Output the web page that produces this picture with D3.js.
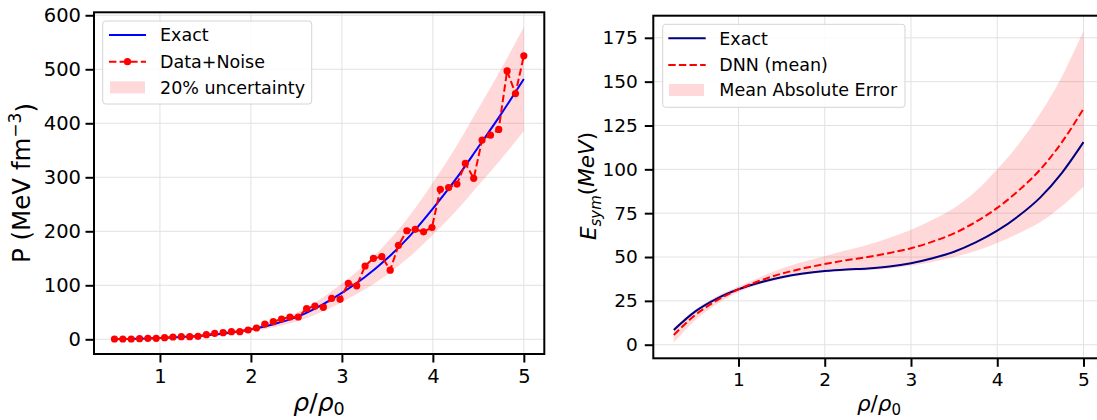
<!DOCTYPE html>
<html><head><meta charset="utf-8">
<script src="https://cdn.jsdelivr.net/npm/d3@7"></script>
<style>
html,body{margin:0;padding:0;background:#fff;}
svg{display:block;font-family:"DejaVu Sans",sans-serif;}
</style></head>
<body>
<svg id="c" width="1097" height="420"></svg>
<script>
// ---------- Left panel data ----------
const P_X = [0.5,0.75,1,1.25,1.5,1.75,2,2.25,2.5,2.75,3,3.25,3.5,3.75,4,4.25,4.5,4.75,5];
const P_EXACT = [0.3,0.9,2.3,4.3,7,11.5,18.5,28,41,61,86,115,150,192,242,296,356,417,482];
const P_LOW = [0.24,0.72,1.84,3.44,5.6,9.2,14.8,22.4,32.8,48.8,68.8,92,120,153.6,193.6,236.8,284.8,333.6,385.6];
const P_HIGH = [0.36,1.08,2.76,5.16,8.4,13.8,22.2,33.6,49.2,73.2,103.2,138,180,230.4,290.4,355.2,427.2,500.4,578.4];
const NOISE_X = [0.500,0.592,0.684,0.776,0.867,0.959,1.051,1.143,1.235,1.327,1.418,1.510,1.602,1.694,1.786,1.878,1.969,2.061,2.153,2.245,2.337,2.429,2.520,2.612,2.704,2.796,2.888,2.980,3.071,3.163,3.255,3.347,3.439,3.531,3.622,3.714,3.806,3.898,3.990,4.082,4.173,4.265,4.357,4.449,4.541,4.633,4.724,4.816,4.908,5.000];
const NOISE_Y = [0.6,0.6,0.6,1.2,1.8,1.8,3.0,4.3,4.9,4.9,5.5,8.6,11.0,12.3,14.1,14.1,17.2,20.9,28.3,32.6,37.6,41.3,41.3,56.7,61.6,59.2,75.8,74.0,103.6,99.0,135.7,150,153,128,174,201,203.6,199,207,277.6,281,287.4,325.7,298,369,378,388.6,497,455,525];
const P_XTICKS = [1,2,3,4,5];
const P_YTICKS = [0,100,200,300,400,500,600];

// ---------- Right panel data ----------
const E_X = [0.25,0.5,0.75,1,1.25,1.5,1.75,2,2.25,2.5,2.75,3,3.25,3.5,3.75,4,4.25,4.5,4.75,5];
const E_EXACT = [8.4,19,26.3,31.6,35.5,38.5,40.6,42,42.9,43.5,44.6,46.5,49.3,53,58.3,65,73.5,84,98,115.5];
const E_DNN = [5.5,17,25.3,31.6,36.5,40.5,43.5,46,48.2,50,52.3,55,58.8,63.5,70,78,88,100,115.5,134.5];
const E_LOW = [1.2,14,23,30,34.5,37.5,39.8,41.3,42,42.5,43.5,45,47.2,50,53.5,58,63.5,70,79,90];
const E_HIGH = [9.8,20,27.6,33.2,38.5,43.5,47.3,50.5,53.8,57,61,65.5,71.3,78,87.5,100,114.5,132,153,179];
const E_XTICKS = [1,2,3,4,5];
const E_YTICKS = [0,25,50,75,100,125,150,175];

const svg = d3.select("#c");
const GRID = "#e2e2e2";

function panel(opt){
  const g = svg.append("g");
  const x = d3.scaleLinear().domain(opt.xd).range([opt.L, opt.R]);
  const y = d3.scaleLinear().domain(opt.yd).range([opt.B, opt.T]);
  g.append("g").selectAll("line").data(opt.xt).join("line")
    .attr("x1", d=>x(d)).attr("x2", d=>x(d)).attr("y1", opt.T).attr("y2", opt.B)
    .attr("stroke", GRID).attr("stroke-width", 1);
  g.append("g").selectAll("line").data(opt.yt).join("line")
    .attr("x1", opt.L).attr("x2", opt.R).attr("y1", d=>y(d)).attr("y2", d=>y(d))
    .attr("stroke", GRID).attr("stroke-width", 1);
  const ax = g.append("g").attr("transform", `translate(0,${opt.B})`)
    .call(d3.axisBottom(x).tickValues(opt.xt).tickFormat(d3.format("d")).tickSize(8.5).tickPadding(opt.xpad));
  const ay = g.append("g").attr("transform", `translate(${opt.L},0)`)
    .call(d3.axisLeft(y).tickValues(opt.yt).tickFormat(d3.format("d")).tickSize(8.5).tickPadding(opt.ypad));
  [ax, ay].forEach(a=>{
    a.select(".domain").remove();
    a.selectAll(".tick line").attr("stroke", "#000").attr("stroke-width", 2);
    a.selectAll(".tick text").attr("fill", "#000").attr("font-size", opt.tickFs + "px")
      .attr("font-family", "DejaVu Sans");
  });
  return {g, x, y};
}

// ---------- LEFT ----------
const A = panel({xd:[0.275,5.225], yd:[-27.2,605.5], L:94, R:544.3, T:12.3, B:354,
  xt:P_XTICKS, yt:P_YTICKS, tickFs:19.5, xpad:6.5, ypad:4.5});
const bandA = d3.area().x((d,i)=>A.x(P_X[i])).y0((d,i)=>A.y(P_LOW[i])).y1((d,i)=>A.y(P_HIGH[i])).curve(d3.curveMonotoneX);
A.g.append("path").attr("d", bandA(P_X)).attr("fill", "#ff0000").attr("fill-opacity", 0.15);
const exactA = d3.line().x((d,i)=>A.x(P_X[i])).y((d,i)=>A.y(P_EXACT[i])).curve(d3.curveMonotoneX);
A.g.append("path").attr("d", exactA(P_X)).attr("fill","none").attr("stroke","#0000ff").attr("stroke-width",2);
const noiseLine = d3.line().x((d,i)=>A.x(NOISE_X[i])).y((d,i)=>A.y(NOISE_Y[i]));
A.g.append("path").attr("d", noiseLine(NOISE_X)).attr("fill","none").attr("stroke","#ff0000")
  .attr("stroke-width",2).attr("stroke-dasharray","7.4,3.2");
A.g.append("g").selectAll("circle").data(NOISE_X).join("circle")
  .attr("cx",(d,i)=>A.x(NOISE_X[i])).attr("cy",(d,i)=>A.y(NOISE_Y[i])).attr("r",3.6).attr("fill","#ff0000");
A.g.append("rect").attr("x",94).attr("y",12.3).attr("width",544.3-94).attr("height",354-12.3)
  .attr("fill","none").attr("stroke","#000").attr("stroke-width",2);

function legend(g, x0, y0, w, h, rows, fs){
  g.append("rect").attr("x",x0).attr("y",y0).attr("width",w).attr("height",h).attr("rx",3)
    .attr("fill","#fff").attr("fill-opacity",0.85).attr("stroke","#d4d4d4").attr("stroke-width",1);
  rows.forEach(r=>{
    if(r.type==="patch"){
      g.append("rect").attr("x",r.hx0).attr("y",r.cy-6).attr("width",r.hx1-r.hx0).attr("height",12)
        .attr("fill","#ff0000").attr("fill-opacity",0.15);
    } else {
      g.append("line").attr("x1",r.hx0).attr("x2",r.hx1).attr("y1",r.cy).attr("y2",r.cy)
        .attr("stroke",r.color).attr("stroke-width",2).attr("stroke-dasharray",r.dash||null);
      if(r.marker) g.append("circle").attr("cx",(r.hx0+r.hx1)/2).attr("cy",r.cy).attr("r",3.6).attr("fill",r.color);
    }
    g.append("text").attr("x",r.tx).attr("y",r.cy).attr("dy","0.36em").attr("font-size",fs+"px")
      .attr("fill","#000").text(r.label);
  });
}
legend(A.g, 102.7, 21, 209, 83, [
  {type:"line", color:"#0000ff", hx0:109, hx1:146, cy:35, tx:160, label:"Exact"},
  {type:"line", color:"#ff0000", dash:"7.4,3.2", marker:true, hx0:109, hx1:146, cy:61.7, tx:160, label:"Data+Noise"},
  {type:"patch", hx0:110, hx1:145, cy:87.3, tx:160, label:"20% uncertainty"}
], 17.5);

const ylA = svg.append("text").attr("transform","translate(30,183) rotate(-90)").attr("text-anchor","middle")
  .attr("font-size","24.5px").attr("fill","#000");
ylA.append("tspan").text("P (MeV fm");
ylA.append("tspan").attr("dy","-0.55em").attr("font-size","17px").text("\u22123");
ylA.append("tspan").attr("dy","0.55em").text(")");
const xlA = svg.append("text").attr("x",319).attr("y",411).attr("text-anchor","middle").attr("font-size","25px").attr("fill","#000");
xlA.append("tspan").attr("font-style","italic").text("ρ");
xlA.append("tspan").text("/");
xlA.append("tspan").attr("font-style","italic").text("ρ");
xlA.append("tspan").attr("font-size","17.5px").attr("dy","0.25em").text("0");

// ---------- RIGHT ----------
const B = panel({xd:[0.0125,5.2375], yd:[-7.75,187.6], L:653.3, R:1104, T:15.7, B:358.3,
  xt:E_XTICKS, yt:E_YTICKS, tickFs:18.5, xpad:6.5, ypad:7});
const bandB = d3.area().x((d,i)=>B.x(E_X[i])).y0((d,i)=>B.y(E_LOW[i])).y1((d,i)=>B.y(E_HIGH[i])).curve(d3.curveMonotoneX);
B.g.append("path").attr("d", bandB(E_X)).attr("fill", "#ff0000").attr("fill-opacity", 0.15);
const exactB = d3.line().x((d,i)=>B.x(E_X[i])).y((d,i)=>B.y(E_EXACT[i])).curve(d3.curveMonotoneX);
B.g.append("path").attr("d", exactB(E_X)).attr("fill","none").attr("stroke","#000080").attr("stroke-width",2);
const dnnB = d3.line().x((d,i)=>B.x(E_X[i])).y((d,i)=>B.y(E_DNN[i])).curve(d3.curveMonotoneX);
B.g.append("path").attr("d", dnnB(E_X)).attr("fill","none").attr("stroke","#ff0000")
  .attr("stroke-width",2).attr("stroke-dasharray","7.4,3.2");
B.g.append("rect").attr("x",653.3).attr("y",15.7).attr("width",1104-653.3).attr("height",358.3-15.7)
  .attr("fill","none").attr("stroke","#000").attr("stroke-width",2);

legend(B.g, 662.7, 24.3, 242.3, 83, [
  {type:"line", color:"#000080", hx0:668.3, hx1:705.7, cy:38.3, tx:719.3, label:"Exact"},
  {type:"line", color:"#ff0000", dash:"7.4,3.2", hx0:668.3, hx1:705.7, cy:65, tx:719.3, label:"DNN (mean)"},
  {type:"patch", hx0:669, hx1:704, cy:90, tx:719.3, label:"Mean Absolute Error"}
], 17.5);

const ylB = svg.append("text").attr("transform","translate(596,186) rotate(-90)").attr("text-anchor","middle")
  .attr("font-size","21.5px").attr("fill","#000");
ylB.append("tspan").attr("font-style","italic").text("E");
ylB.append("tspan").attr("font-style","italic").attr("font-size","15px").attr("dy","0.3em").text("sym");
ylB.append("tspan").attr("dy","-0.3em").text("(");
ylB.append("tspan").attr("font-style","italic").text("MeV");
ylB.append("tspan").text(")");
const xlB = svg.append("text").attr("x",879).attr("y",411).attr("text-anchor","middle").attr("font-size","21.5px").attr("fill","#000");
xlB.append("tspan").attr("font-style","italic").text("ρ");
xlB.append("tspan").text("/");
xlB.append("tspan").attr("font-style","italic").text("ρ");
xlB.append("tspan").attr("font-size","15px").attr("dy","0.25em").text("0");
</script>
</body></html>
